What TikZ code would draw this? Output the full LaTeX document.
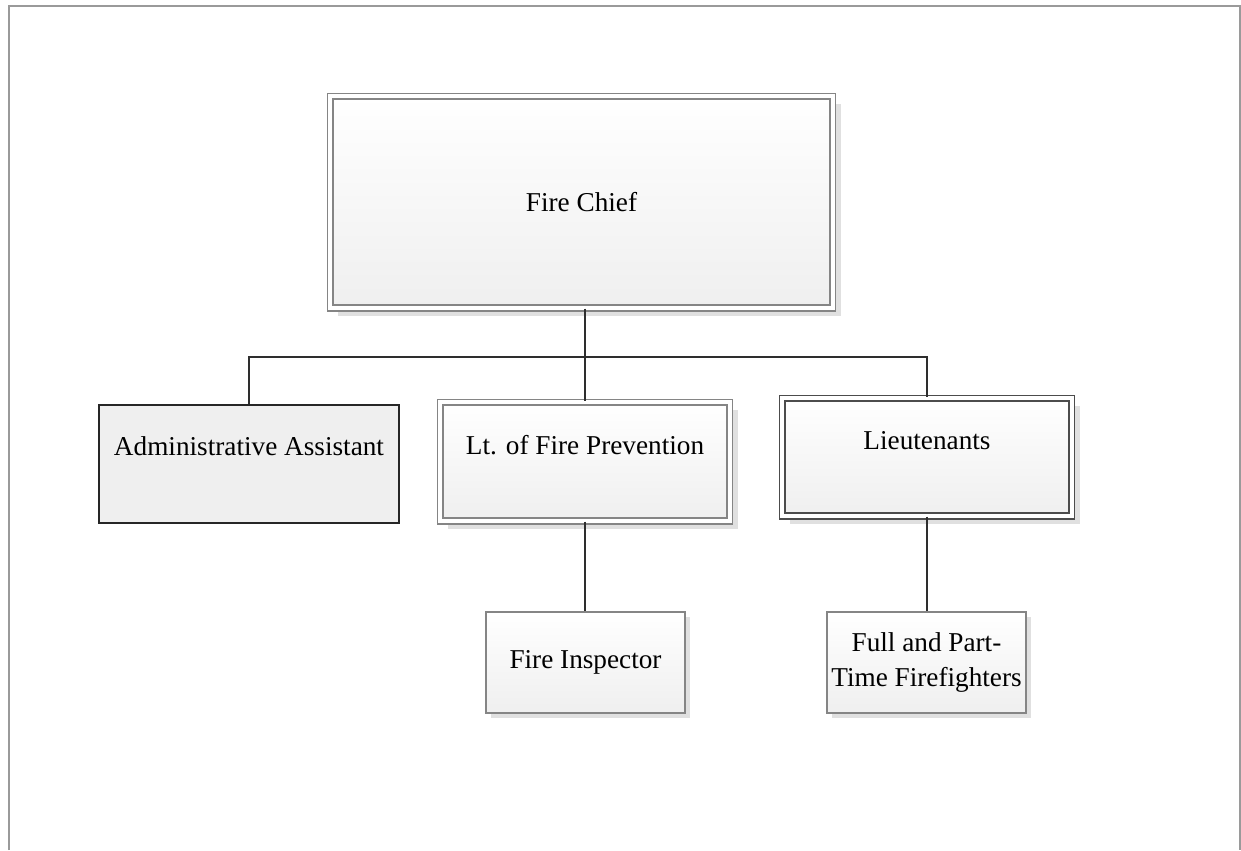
\documentclass[tikz,border=0pt]{standalone}
\usepackage{fontspec}
\setmainfont{Liberation Serif}
\usetikzlibrary{shadows}
\definecolor{edge}{HTML}{858585}
\definecolor{linkgray}{HTML}{2E2E2E}
\definecolor{paper}{HTML}{EFEFEF}
\definecolor{framegray}{HTML}{9A9A9A}

\begin{document}
\begin{tikzpicture}[x=0.02cm,y=-0.02cm,font=\fontsize{15.5}{19.5}\selectfont,
  box/.style={draw=edge,line width=0.8pt,top color=white,bottom color=paper,inner sep=0pt,align=center},
  lift/.style={drop shadow={shadow xshift=#1,shadow yshift=-#1,fill=black!12,opacity=1}},
  post/.style={box,lift=3pt},
  lead/.style={box,lift=4.5pt,double=white,double distance=2.4pt},
  aide/.style={draw=black!85,line width=1.3pt,fill=paper,inner sep=0pt},
  topline/.style 2 args={text height=#1,text depth=#2},
  link/.style={draw=linkgray,line width=1.5pt}]
  \useasboundingbox (0,0) rectangle (1241,850);
  \draw[draw=framegray,line width=1.2pt] (9,850) -- (9,6) -- (1240,6) -- (1240,850);
  % top of the chart
  \node[lead,minimum width=10.06cm,minimum height=4.24cm] (chief) at (581.5,202) {Fire Chief};
  % second row: text sits high in the box
  \node[aide,minimum width=6cm,topline={1.0cm}{1.36cm}] (admin) at (249,464) {Administrative Assistant};
  \node[lead,minimum width=5.79cm,topline={1.04cm}{1.34cm}] (ltfp) at (585,461.5) {Lt. of Fire Prevention};
  \node[lead,draw=black!70,minimum width=5.79cm,topline={1.02cm}{1.34cm}] (lts) at (927,457) {Lieutenants};
  % third row
  \node[post,minimum width=3.98cm,minimum height=2.02cm] (insp) at (585.5,662.5) {Fire Inspector};
  \node[post,minimum width=3.98cm,minimum height=2.02cm] (crew) at (926.5,662.5) {Full and Part-\\Time Firefighters};
  \coordinate (split) at (585,357);
  \draw[link] (chief.south -| split) -- (ltfp.north);
  \draw[link] (split) -| (admin.north);
  \draw[link] (split) -| (lts.north);
  \draw[link] (ltfp.south) -- (ltfp.south |- insp.north);
  \draw[link] (lts.south) -- (lts.south |- crew.north);
\end{tikzpicture}
\end{document}
